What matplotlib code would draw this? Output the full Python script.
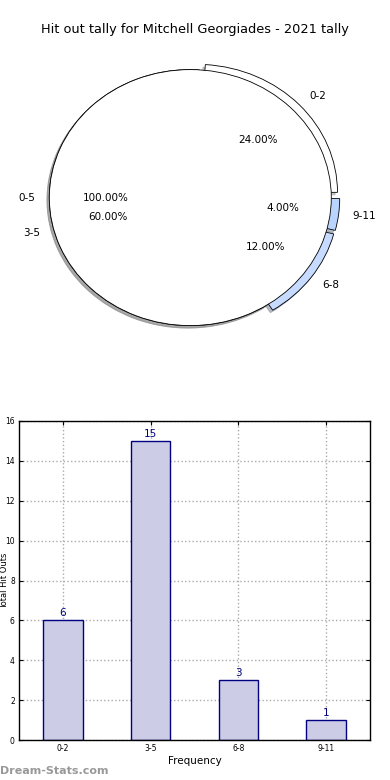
import matplotlib
matplotlib.use("Agg")
import matplotlib.pyplot as plt

# data
groups = ['0-2', '3-5', '6-8', '9-11']
counts = [6, 15, 3, 1]
total_label = ['0-5']
total_value = [25]
pie_colors = ['white', 'white', '#c6dbff', '#b9d5ff']
explode = [0.06, 0.0, 0.06, 0.06]

fig = plt.figure(figsize=(3.9, 7.8), dpi=100)
fig.text(0.5, 1 - 30 / 780, 'Hit out tally for Mitchell Georgiades - 2021 tally',
         ha='center', va='center', fontsize=9.3)

shadow = {'ox': -0.012, 'oy': -0.014, 'shade': 0.45}

# pie chart (detail pie underneath, full circle on top)
ax1 = fig.add_axes([7 / 390, 1 - 364 / 780, 366.6 / 390, 332.8 / 780])
ax1.pie(counts, labels=groups, colors=pie_colors, explode=explode,
        autopct='%1.2f%%', pctdistance=0.6, labeldistance=1.1, shadow=shadow,
        startangle=0, wedgeprops={'edgecolor': 'black', 'linewidth': 0.6},
        textprops={'fontsize': 7.5})
ax1.pie(total_value, labels=total_label, colors=['white'], autopct='%1.2f%%',
        pctdistance=0.6, labeldistance=1.1, shadow=shadow,
        wedgeprops={'edgecolor': 'black', 'linewidth': 0.6},
        textprops={'fontsize': 7.5})
ax1.set_aspect('auto')
ax1.set_xlim(-1.3, 1.3)
ax1.set_ylim(-1.3, 1.3)
ax1.axis('off')

# bar chart
ax2 = fig.add_axes([19 / 390, 1 - 740 / 780, 351 / 390, 319 / 780])
x = list(range(len(groups)))
bars = ax2.bar(x, counts, width=0.45, color='#ccccE6', edgecolor='#000080',
               linewidth=1, zorder=2)
for xi, c in zip(x, counts):
    ax2.text(xi, c + 0.12, str(c), ha='center', va='bottom', color='#000080', fontsize=7.5)
ax2.set_xlim(-0.5, 3.5)
ax2.set_ylim(0, 16)
ax2.set_yticks(range(0, 17, 2))
ax2.set_xticks(x)
ax2.set_xticklabels(groups)
ax2.tick_params(direction='in', labelsize=5.5, length=3, top=True, right=True, pad=3)
ax2.grid(True, linestyle=':', color='#aaaaaa', linewidth=1, zorder=0)
ax2.set_axisbelow(True)
ax2.set_xlabel('Frequency', fontsize=7.5, labelpad=2)
ax2.set_ylabel('Total Hit Outs', fontsize=6, ha='center', va='center')
ax2.yaxis.set_label_coords(-14 / 351, 0.5)
for s in ax2.spines.values():
    s.set_linewidth(1)

fig.text(0.0, 1 - 771 / 780, 'Dream-Stats.com', color='#999999', fontsize=8,
         fontweight='bold', ha='left', va='center')

fig.savefig('out.png', dpi=100)
